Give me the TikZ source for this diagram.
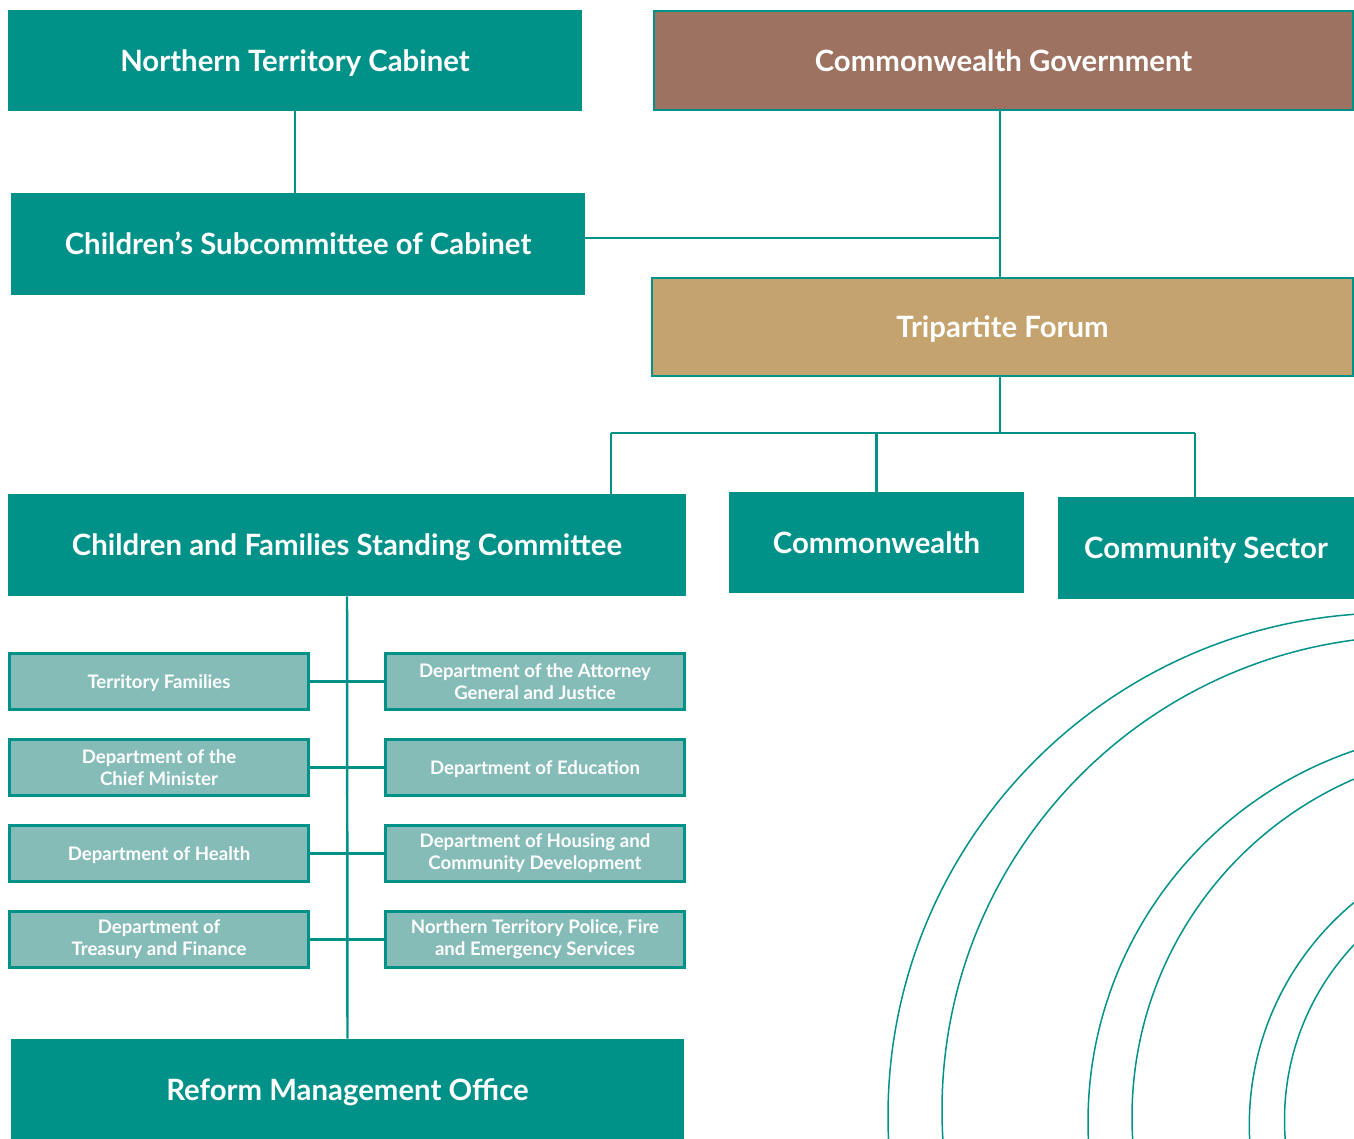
\documentclass[tikz,border=0pt]{standalone}
\usepackage{fontspec}
\setmainfont{Lato}
\definecolor{ntteal}{HTML}{009188}
\definecolor{ntlight}{HTML}{85BCB8}
\definecolor{ntbrown}{HTML}{9D7260}
\definecolor{nttan}{HTML}{C4A36E}
\begin{document}
\begin{tikzpicture}[x=0.2mm,y=0.2mm,
    sz/.style 2 args={minimum width=#1*0.2mm, minimum height=#2*0.2mm},
    big/.style={fill=ntteal, text=white, inner sep=0pt, text height=12pt, text depth=0pt,
        font=\fontsize{16.7}{20}\selectfont\bfseries},
    small/.style={fill=ntlight, draw=ntteal, line width=1.7pt, text=white, inner sep=0pt, align=center,
        sz={299}{56}, font=\fontsize{10.6}{12.4}\selectfont\bfseries},
    oneline/.style={text height=7.6pt, text depth=0pt},
    link/.style={draw=ntteal, line width=1.4pt},
    ring/.style={draw=ntteal, line width=0.85pt}]
    \useasboundingbox (0,0) rectangle (1354,-1138);
    \begin{scope}
        \clip (0,0) rectangle (1354,-1138);
        \draw[ring] (1391,-1116) circle (503);
        \draw[ring] (1416,-1110) circle (474);
        \draw[ring] (1480,-1122) circle (392);
        \draw[ring] (1500,-1117) circle (368);
        \draw[ring] (1538,-1125) circle (288.7);
        \draw[ring] (1540,-1120) circle (255.5);
    \end{scope}
    \node[big, sz={574}{101}] (ntc) at (295,-60.5) {Northern Territory Cabinet};
    \node[big, fill=ntbrown, draw=ntteal, line width=1.1pt, sz={699}{99}] (cg) at (1003.5,-60.5) {Commonwealth Government};
    \node[big, sz={574}{102}] (csc) at (298,-244) {Children’s Subcommittee of Cabinet};
    \node[big, fill=nttan, draw=ntteal, line width=1.1pt, sz={701}{98}] (tf) at (1002.5,-327) {Tripartite Forum};
    \node[big, sz={678}{102}] (cfsc) at (347,-545) {Children and Families Standing Committee};
    \node[big, sz={295}{101}] (cw) at (876.5,-542.5) {Commonwealth};
    \node[big, sz={296}{102}] (cs) at (1206,-548) {Community Sector};
    \node[big, sz={673}{101}] (rmo) at (347.5,-1089.5) {Reform Management Office};
    \node[small, oneline] (tfam) at (159,-681.5) {Territory Families};
    \node[small] (dcm) at (159,-767.5) {Department of the\\Chief Minister};
    \node[small, oneline] (doh) at (159,-853.5) {Department of Health};
    \node[small] (dtf) at (159,-939.5) {Department of\\Treasury and Finance};
    \node[small] (dagj) at (535,-681.5) {Department of the Attorney\\General and Justice};
    \node[small, oneline] (doe) at (535,-767.5) {Department of Education};
    \node[small] (dhcd) at (535,-853.5) {Department of Housing and\\Community Development};
    \node[small] (ntpfes) at (535,-939.5) {Northern Territory Police, Fire\\and Emergency Services};
    \coordinate (cj) at (1000,-238);
    \coordinate (bus) at (1000,-433);
    \coordinate (bl) at (611,-433);
    \coordinate (br) at (1195,-433);
    \draw[link] (ntc.south) -- (ntc.south |- csc.north);
    \draw[link] (cg.south -| cj) -- (tf.north -| cj);
    \draw[link] (csc.east |- cj) -- (cj);
    \draw[link] (tf.south -| bus) -- (bus);
    \draw[link] (bl) -- (br);
    \draw[link] (bl) -- (cfsc.north -| bl);
    \draw[link] (cw.north |- bus) -- (cw.north);
    \draw[link] (br) -- (cs.north -| br);
    \draw[link] (cfsc.south) -- (rmo.north);
    \draw[link] (tfam.east) -- (dagj.west);
    \draw[link] (dcm.east) -- (doe.west);
    \draw[link] (doh.east) -- (dhcd.west);
    \draw[link] (dtf.east) -- (ntpfes.west);
\end{tikzpicture}
\end{document}
